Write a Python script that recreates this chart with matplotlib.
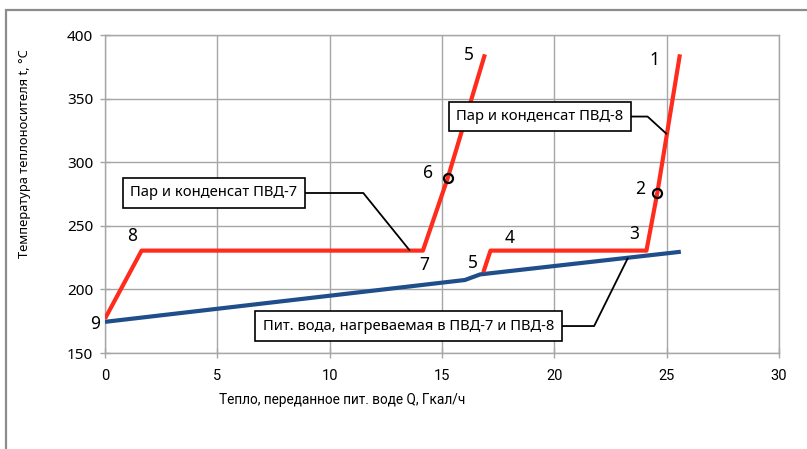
import numpy as np
import matplotlib.pyplot as plt
from matplotlib.patches import Rectangle

# heat transferred to feed water, Gcal/h, and coolant temperature, deg C
q_hp7 = [0.0, 1.63, 14.15, 15.25, 16.91]
t_hp7 = [177.0, 230.5, 230.5, 287.3, 384.8]
q_hp8 = [16.84, 17.16, 24.10, 24.58, 25.59]
t_hp8 = [213.5, 230.5, 230.5, 275.5, 384.8]
q_water = [0.0, 16.02, 16.70, 25.63]
t_water = [174.5, 207.4, 211.8, 229.6]

# numbered state points: (label, curve, index)
points = [('9', 'a', 0), ('8', 'a', 1), ('7', 'a', 2), ('6', 'a', 3), ('5', 'a', 4),
          ('5', 'b', 0), ('4', 'b', 1), ('3', 'b', 2), ('2', 'b', 3), ('1', 'b', 4)]
label_shift = {('9', 'a'): (-10, -5), ('8', 'a'): (-9, 15), ('7', 'a'): (1, -14),
               ('6', 'a'): (-20, 5), ('5', 'a'): (-16, -1), ('5', 'b'): (-10, 9),
               ('4', 'b'): (19, 13), ('3', 'b'): (-12, 17), ('2', 'b'): (-17, 4),
               ('1', 'b'): (-26, -6)}

red = '#ff2b1c'
blue = '#1f4e8a'
grid_col = '#a6a6a6'
txt_font = ['Noto Sans', 'DejaVu Sans']
narrow_font = ['Roboto', 'DejaVu Sans']

fig = plt.figure(figsize=(8.07, 4.49), dpi=100)
ax = fig.add_axes([0.1301, 0.2138, 0.8352, 0.7082])

# outer chart frame
fig.patches.append(Rectangle((6 / 807, -0.05), 1.0, 0.05 + 1 - 10 / 449,
                             transform=fig.transFigure, fill=False,
                             edgecolor='#8c8c8c', lw=1.6, zorder=0))

ax.plot(q_water, t_water, color=blue, lw=3.0, solid_capstyle='butt', zorder=3)
ax.plot(q_hp7, t_hp7, color=red, lw=3.0, solid_capstyle='butt', zorder=4)
ax.plot(q_hp8, t_hp8, color=red, lw=3.0, solid_capstyle='butt', zorder=4)

# open circles at points 6 and 2
ax.plot([q_hp7[3], q_hp8[3]], [t_hp7[3], t_hp8[3]], 'o', ms=6.5,
        mfc='none', mec='black', mew=1.6, zorder=5)

curves = {'a': (q_hp7, t_hp7), 'b': (q_hp8, t_hp8)}
for lab, c, i in points:
    qs, ts = curves[c]
    ax.annotate(lab, (qs[i], ts[i]), xytext=label_shift[(lab, c)],
                textcoords='offset pixels', ha='center', va='center',
                fontsize=12.5, family=txt_font, zorder=6)

ax.set_xlim(0, 30)
ax.set_ylim(150, 400)
ax.set_xticks(np.arange(0, 31, 5))
ax.set_yticks(np.arange(150, 401, 50))
ax.grid(True, color=grid_col, lw=1.0)
ax.set_axisbelow(True)
for s in ax.spines.values():
    s.set_color(grid_col)
    s.set_linewidth(1.0)
ax.tick_params(axis='both', color=grid_col, length=7, width=1.0,
               direction='inout')
ax.tick_params(axis='y', pad=5)
ax.tick_params(axis='x', pad=8)
for t in ax.get_yticklabels():
    t.set_family(txt_font)
    t.set_fontsize(11)
for t in ax.get_xticklabels():
    t.set_family(narrow_font)
    t.set_fontsize(10.5)

fig.text(342 / 807, 1 - 400 / 449, 'Тепло, переданное пит. воде Q, Гкал/ч',
         ha='center', va='center', fontsize=9.8, family=narrow_font)
fig.text(25 / 807, 1 - 154 / 449, 'Температура теплоносителя t, °C',
         ha='center', va='center', rotation=90, fontsize=9.3, family=txt_font)

# callouts with leader lines from the right edge of each box
box = dict(boxstyle='square,pad=0.5', fc='white', ec='black', lw=1.2)
callouts = [('Пар и конденсат ПВД-7', 4.85, 275.8, 2.6, 13.57, q_hp7, t_hp7),
            ('Пар и конденсат ПВД-8', 19.35, 335.9, 0.75, 25.01, q_hp8, t_hp8),
            ('Пит. вода, нагреваемая в ПВД-7 и ПВД-8', 13.51, 171.2, 1.45, 23.28,
             q_water, t_water)]
boxes = []
for text, cx, cy, knee, x_tip, qs, ts in callouts:
    boxes.append(ax.text(cx, cy, text, ha='center', va='center', fontsize=10.6,
                         family=txt_font, bbox=box, zorder=7))

fig.canvas.draw()
inv = ax.transData.inverted()
for tb, (text, cx, cy, knee, x_tip, qs, ts) in zip(boxes, callouts):
    ext = tb.get_bbox_patch().get_window_extent()
    x_right = inv.transform((ext.x1, ext.y0))[0]
    y_tip = np.interp(x_tip, qs, ts)
    ax.plot([x_right, x_right + knee, x_tip], [cy, cy, y_tip], color='black',
            lw=1.3, zorder=6, solid_capstyle='butt')

fig.savefig('out.png', dpi=100)
